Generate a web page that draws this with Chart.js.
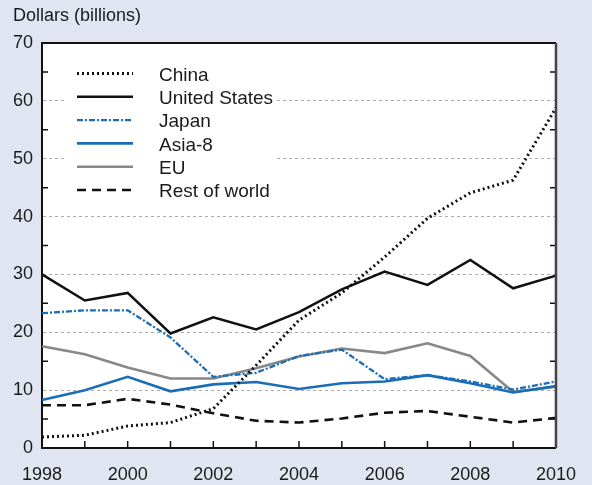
<!DOCTYPE html>
<html>
<head>
<meta charset="utf-8">
<script src="https://cdn.jsdelivr.net/npm/chart.js@4"></script>
<style>
  html, body { margin: 0; padding: 0; background: #e1e5f2; }
  #wrap { width: 592px; height: 485px; }
</style>
</head>
<body>
<div id="wrap"><canvas id="chart" width="592" height="485"></canvas></div>
<script>
const years = ['1998', '1999', '2000', '2001', '2002', '2003', '2004', '2005', '2006', '2007', '2008', '2009', '2010'];
const china = [1.9, 2.2, 3.8, 4.4, 6.8, 14.3, 22.1, 26.8, 33.0, 39.7, 44.1, 46.3, 58.8];
const unitedStates = [30.0, 25.5, 26.8, 19.8, 22.6, 20.5, 23.5, 27.4, 30.5, 28.2, 32.5, 27.6, 29.8];
const japan = [23.3, 23.8, 23.8, 19.1, 12.3, 13.0, 15.9, 17.0, 11.9, 12.6, 11.5, 10.1, 11.5];
const asia8 = [8.3, 10.0, 12.3, 9.8, 11.0, 11.4, 10.2, 11.2, 11.5, 12.6, 11.2, 9.6, 10.7];
const eu = [17.6, 16.2, 13.9, 12.0, 12.0, 13.8, 15.8, 17.2, 16.4, 18.1, 15.9, 9.7, 10.6];
const restOfWorld = [7.4, 7.4, 8.5, 7.5, 6.0, 4.7, 4.4, 5.1, 6.1, 6.4, 5.4, 4.4, 5.2];
const seriesNames = ['China', 'United States', 'Japan', 'Asia-8', 'EU', 'Rest of world'];
const yTitle = 'Dollars (billions)';

const BLUE = '#1a6db6';
const FONT = "'Liberation Sans', Arial, Helvetica, sans-serif";

Chart.defaults.font.family = FONT;
Chart.defaults.font.size = 18;
Chart.defaults.color = '#1a1a1a';

const line = (label, data, color, width, dash) => ({
  label: label,
  data: data,
  borderColor: color,
  borderWidth: width,
  borderDash: dash,
  borderCapStyle: 'butt',
  pointRadius: 0,
  tension: 0,
  fill: false,
});

// frame, inward ticks, title and the boxed legend
const decor = {
  id: 'decor',
  beforeDraw(chart) {
    const { ctx, chartArea: a } = chart;
    ctx.save();
    ctx.fillStyle = '#fff';
    ctx.fillRect(a.left, a.top, a.right - a.left, a.bottom - a.top);
    ctx.restore();
  },
  beforeDatasetsDraw(chart) {
    const { ctx } = chart;
    ctx.save();
    ctx.fillStyle = '#fff';
    ctx.fillRect(64, 58, 211, 146);
    ctx.restore();
  },
  afterDraw(chart) {
    const { ctx, chartArea: a, scales } = chart;
    ctx.save();
    ctx.strokeStyle = '#111';
    ctx.lineWidth = 1.5;
    years.forEach((y, i) => {
      const x = scales.x.getPixelForValue(i);
      ctx.beginPath();
      ctx.moveTo(x, a.bottom);
      ctx.lineTo(x, a.bottom - 7);
      ctx.stroke();
    });
    for (let v = 5; v < 70; v += 10) {
      const y = scales.y.getPixelForValue(v);
      ctx.beginPath();
      ctx.moveTo(a.left, y);
      ctx.lineTo(a.left + 6, y);
      ctx.moveTo(a.right, y);
      ctx.lineTo(a.right - 6, y);
      ctx.stroke();
    }
    ctx.lineWidth = 2;
    ctx.strokeStyle = '#111';
    ctx.beginPath();
    ctx.moveTo(a.left, a.top);
    ctx.lineTo(a.right, a.top);
    ctx.stroke();
    ctx.strokeStyle = '#444';
    ctx.lineWidth = 2.5;
    ctx.beginPath();
    ctx.moveTo(a.right, a.top);
    ctx.lineTo(a.right, a.bottom);
    ctx.stroke();

    ctx.fillStyle = '#1a1a1a';
    ctx.font = '18px ' + FONT;
    ctx.textBaseline = 'middle';
    ctx.fillText(yTitle, 13, 16);

    ctx.font = '19px ' + FONT;
    chart.data.datasets.forEach((ds, i) => {
      const y = 73.5 + i * 23.3;
      ctx.strokeStyle = ds.borderColor;
      ctx.lineWidth = ds.borderWidth;
      ctx.setLineDash(ds.borderDash || []);
      ctx.beginPath();
      ctx.moveTo(77, y);
      ctx.lineTo(133, y);
      ctx.stroke();
      ctx.setLineDash([]);
      ctx.fillText(ds.label, 159, y + 2);
    });
    ctx.restore();
  },
};

new Chart(document.getElementById('chart'), {
  type: 'line',
  data: {
    labels: years,
    datasets: [
      line(seriesNames[0], china, '#111', 3, [2, 3]),
      line(seriesNames[1], unitedStates, '#111', 2.5, []),
      line(seriesNames[2], japan, BLUE, 2.3, [6, 2, 2, 2]),
      line(seriesNames[3], asia8, BLUE, 2.6, []),
      line(seriesNames[4], eu, '#888', 2.6, []),
      line(seriesNames[5], restOfWorld, '#111', 2.6, [9, 6]),
    ],
  },
  options: {
    responsive: false,
    animation: false,
    layout: { padding: { top: 43, right: 34, left: 0, bottom: 0 } },
    plugins: { legend: { display: false }, tooltip: { enabled: false } },
    scales: {
      x: {
        offset: false,
        grid: { display: false, drawTicks: false },
        border: { display: true, color: '#111', width: 2 },
        ticks: {
          padding: 16,
          maxRotation: 0,
          autoSkip: false,
          callback: (v, i) => (i % 2 === 0 ? years[i] : ''),
        },
        afterFit: (s) => { s.height = 37; },
      },
      y: {
        min: 0,
        max: 70,
        grid: {
          drawTicks: false,
          color: (c) => (c.tick && c.tick.value % 10 === 0 && c.tick.value > 0 && c.tick.value < 70 ? '#aaa' : 'rgba(0,0,0,0)'),
          lineWidth: 1,
        },
        border: { display: true, color: '#111', width: 2, dash: [3, 3] },
        ticks: {
          stepSize: 5,
          padding: 9,
          callback: (v) => (v % 10 === 0 ? v : ''),
        },
        afterFit: (s) => { s.width = 42; },
      },
    },
  },
  plugins: [decor],
});
</script>
</body>
</html>
